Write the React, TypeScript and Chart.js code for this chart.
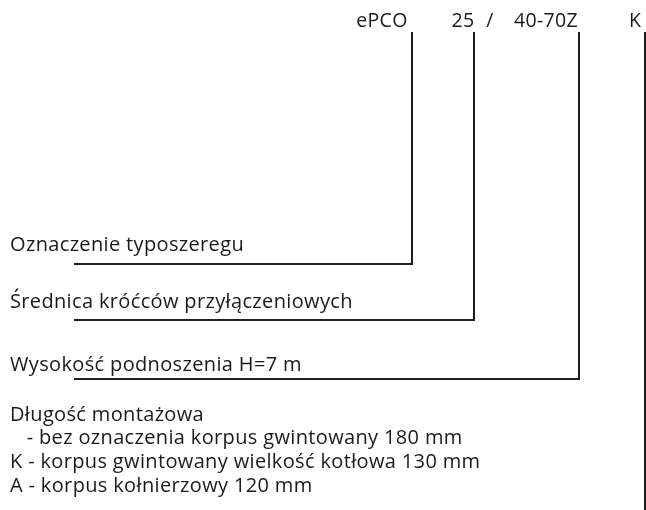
import React, { useEffect, useRef } from "react";
import { Chart, registerables } from "chart.js";

Chart.register(...registerables);

// Type-code parts shown across the top
const codeParts = ["ePCO", "25", "/", "40-70Z", "K"];
const codePartX = [382, 463, 490, 546, 635];
const codeBaselineY = 27;

// Connector lines: each runs down from the code part, then left under its description
const connectorX = [412, 474, 579, 645];
const connectorBottomY = [264, 320, 379, 510];
const connectorTopY = 32;
const connectorLeftX = 74;

// Descriptions
const descriptions = [
  "Oznaczenie typoszeregu",
  "Średnica króćców przyłączeniowych",
  "Wysokość podnoszenia H=7 m",
];
const descriptionBaselineY = [251, 307.5, 371];

const legendLines = [
  "Długość montażowa",
  "   - bez oznaczenia korpus gwintowany 180 mm",
  "K - korpus gwintowany wielkość kotłowa 130 mm",
  "A - korpus kołnierzowy 120 mm",
];
const legendBaselineY = [420.5, 444, 468, 491.5];
const textLeftX = 10;

const CODE_FONT = '19.5px "Open Sans"';
const CODE_LETTER_SPACING = "0.3px";
const FONT = '20px "Open Sans"';
const LETTER_SPACING = "0.35px";
const TEXT_COLOR = "#1a1a1a";
const LINE_COLOR = "#1e1e1e";

const textPlugin = {
  id: "diagramText",
  afterDatasetsDraw(chart: any) {
    const { ctx, scales } = chart;
    const xs = scales.x;
    const ys = scales.y;
    ctx.save();
    ctx.font = CODE_FONT;
    (ctx as any).letterSpacing = CODE_LETTER_SPACING;
    ctx.fillStyle = TEXT_COLOR;
    ctx.textBaseline = "alphabetic";
    ctx.textAlign = "center";
    codeParts.forEach((t, i) => {
      ctx.fillText(t, xs.getPixelForValue(codePartX[i]), ys.getPixelForValue(codeBaselineY));
    });
    ctx.font = FONT;
    (ctx as any).letterSpacing = LETTER_SPACING;
    ctx.textAlign = "left";
    descriptions.forEach((t, i) => {
      ctx.fillText(t, xs.getPixelForValue(textLeftX), ys.getPixelForValue(descriptionBaselineY[i]));
    });
    legendLines.forEach((t, i) => {
      ctx.fillText(t, xs.getPixelForValue(textLeftX), ys.getPixelForValue(legendBaselineY[i]));
    });
    ctx.restore();
  },
};

export default function App() {
  const ref = useRef<HTMLCanvasElement>(null);

  useEffect(() => {
    if (!ref.current) return;
    const datasets = connectorX.map((cx, i) => {
      const pts = [
        { x: cx, y: connectorTopY },
        { x: cx, y: connectorBottomY[i] },
      ];
      if (i < descriptions.length) pts.push({ x: connectorLeftX, y: connectorBottomY[i] });
      return {
        data: pts,
        showLine: true,
        borderColor: LINE_COLOR,
        borderWidth: 2,
        pointRadius: 0,
        fill: false,
        tension: 0,
        borderJoinStyle: "miter" as const,
      };
    });
    const chart = new Chart(ref.current, {
      type: "scatter",
      data: { datasets },
      options: {
        animation: false,
        responsive: false,
        maintainAspectRatio: false,
        layout: { padding: 0 },
        plugins: { legend: { display: false }, tooltip: { enabled: false } },
        scales: {
          x: { type: "linear", min: 0, max: 646, display: false },
          y: { type: "linear", min: 0, max: 510, reverse: true, display: false },
        },
      },
      plugins: [textPlugin],
    });
    return () => chart.destroy();
  }, []);

  return (
    <div style={{ position: "fixed", left: 0, top: 0, width: 646, height: 510, background: "#fff" }}>
      <canvas ref={ref} width={646} height={510} style={{ display: "block" }} />
    </div>
  );
}
